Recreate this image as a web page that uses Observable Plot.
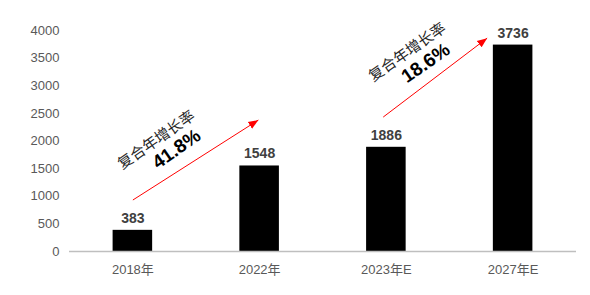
<!DOCTYPE html>
<html>
<head>
<meta charset="utf-8">
<script src="https://cdn.jsdelivr.net/npm/d3@7"></script>
<script src="https://cdn.jsdelivr.net/npm/@observablehq/plot@0.6"></script>
<style>
  html, body { margin: 0; padding: 0; background: #fff; }
  #chart { width: 590px; height: 295px; }
</style>
</head>
<body>
<div id="chart"></div>
<script>
// Market size by year (bars) with two CAGR annotations
const categories = ["2018年", "2022年", "2023年E", "2027年E"];
const values = [383, 1548, 1886, 3736];
const yTicks = [0, 500, 1000, 1500, 2000, 2500, 3000, 3500, 4000];

// Growth arrows: start/end in (category position, value) space
const arrowX1 = [0, 1.975];
const arrowY1 = [932, 2433];
const arrowX2 = [0.99, 2.795];
const arrowY2 = [2379, 3862];

// CAGR labels
const cagrLabels = ["41.8%", "18.6%"];
const cagrTitle = "复合年增长率";
const titleX = [0.186, 2.166];
const titleY = [2017, 3608];
const rateX = [0.344, 2.31];
const rateY = [1854, 3410];

const bars = categories.map((c, i) => ({i, category: c, value: values[i]}));
const arrows = arrowX1.map((x, i) => ({x1: x, y1: arrowY1[i], x2: arrowX2[i], y2: arrowY2[i]}));
const titles = titleX.map((x, i) => ({x, y: titleY[i], text: cagrTitle}));
const rates = rateX.map((x, i) => ({x, y: rateY[i], text: cagrLabels[i]}));

const halfBar = 0.156;
const font = "'Liberation Sans', Arial, 'Noto Sans CJK SC', sans-serif";

// Solid triangular arrowhead
function solidHead(color, context) {
  const m = d3.create("svg:marker")
    .attr("viewBox", "-10 -5 10 10")
    .attr("markerUnits", "userSpaceOnUse")
    .attr("markerWidth", 10)
    .attr("markerHeight", 10)
    .attr("refX", 0)
    .attr("refY", 0)
    .attr("orient", "auto")
    .attr("fill", color)
    .attr("stroke", "none");
  m.append("path").attr("d", "M-10,-4L0,0L-10,4Z");
  return m.node();
}

const chart = Plot.plot({
  width: 590,
  height: 295,
  marginLeft: 69,
  marginRight: 14,
  marginTop: 30,
  marginBottom: 44,
  style: {fontFamily: font, background: "#fff"},
  x: {domain: [-0.5, categories.length - 0.5]},
  y: {domain: [0, 4000]},
  marks: [
    Plot.axisY({
      ticks: yTicks, tickFormat: (d) => String(d), tickSize: 0, tickPadding: 10,
      fontSize: 13, fill: "#595959", label: null
    }),
    Plot.axisX({
      ticks: categories.map((_, i) => i), tickFormat: (i) => categories[i],
      tickSize: 0, tickPadding: 13, fontSize: 13, fill: "#595959", label: null
    }),
    Plot.rectY(bars, {
      x1: (d) => d.i - halfBar, x2: (d) => d.i + halfBar, y: "value", fill: "#000"
    }),
    Plot.ruleY([0], {stroke: "#bfbfbf", strokeWidth: 1.3}),
    Plot.text(bars, {
      x: "i", y: "value", text: (d) => String(d.value), dy: -12,
      fontSize: 14, fontWeight: "bold", fill: "#404040"
    }),
    Plot.link(arrows, {
      x1: "x1", y1: "y1", x2: "x2", y2: "y2",
      stroke: "#ff0000", strokeWidth: 1, markerEnd: solidHead
    }),
    Plot.text(titles, {
      x: "x", y: "y", text: "text", rotate: -35, fontSize: 15, fill: "#262626"
    }),
    Plot.text(rates, {
      x: "x", y: "y", text: "text", rotate: -35, fontSize: 19,
      fontWeight: "bold", fill: "#000"
    })
  ]
});

document.getElementById("chart").appendChild(chart);
</script>
</body>
</html>
